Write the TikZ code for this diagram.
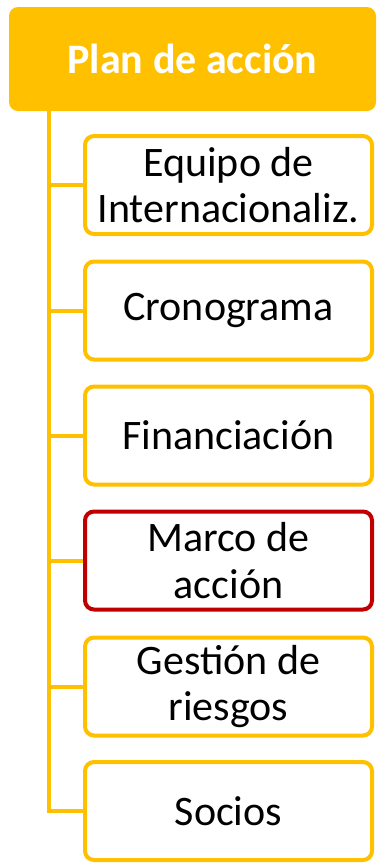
\documentclass[tikz,border=0pt]{standalone}
\usepackage{fontspec}
\setmainfont{Carlito}
\usepackage{xcolor}
\usetikzlibrary{calc,positioning}

\definecolor{planyellow}{HTML}{FFC000}
\definecolor{planred}{HTML}{C00000}

\tikzset{
  head/.style={fill=planyellow, rounded corners=9pt, minimum width=367pt,
    minimum height=104pt, inner sep=0pt, text=white,
    font=\fontsize{42}{46}\selectfont\bfseries},
  item/.style={draw=planyellow, fill=white, line width=4pt, rounded corners=9pt,
    minimum width=287pt, minimum height=98pt, inner sep=0pt, align=center,
    font=\fontsize{42}{46.5}\selectfont},
  link/.style={draw=planyellow, line width=4pt}
}

\begin{document}
\begin{tikzpicture}[x=1pt,y=-1pt]
\useasboundingbox (0,0) rectangle (376,865);

\node[head] (plan) at (192.5,59) {Plan de acción};

\coordinate (spine) at (49,111);

\node[item] (equipo)  at (228.5,185) {Equipo de\\Internacionaliz.};
\node[item] (crono)   at (228.5,310.5) {Cronograma};
\node[item] (financ)  at (228.5,435.5) {Financiación};
\node[item, draw=planred] (marco) at (228.5,560.5) {Marco de\\acción};
\node[item] (gestion) at (228.5,686.5) {Gestión de\\riesgos};
\node[item] (socios)  at (228.5,811) {Socios};

%%%%%%%%%%%%%%%
\draw[link] (spine) |- (socios.west);
\draw[link] (equipo.west -| spine) -- (equipo.west);
\draw[link] (crono.west -| spine) -- (crono.west);
\draw[link] (financ.west -| spine) -- (financ.west);
\draw[link] (marco.west -| spine) -- (marco.west);
\draw[link] (gestion.west -| spine) -- (gestion.west);

\end{tikzpicture}
\end{document}
